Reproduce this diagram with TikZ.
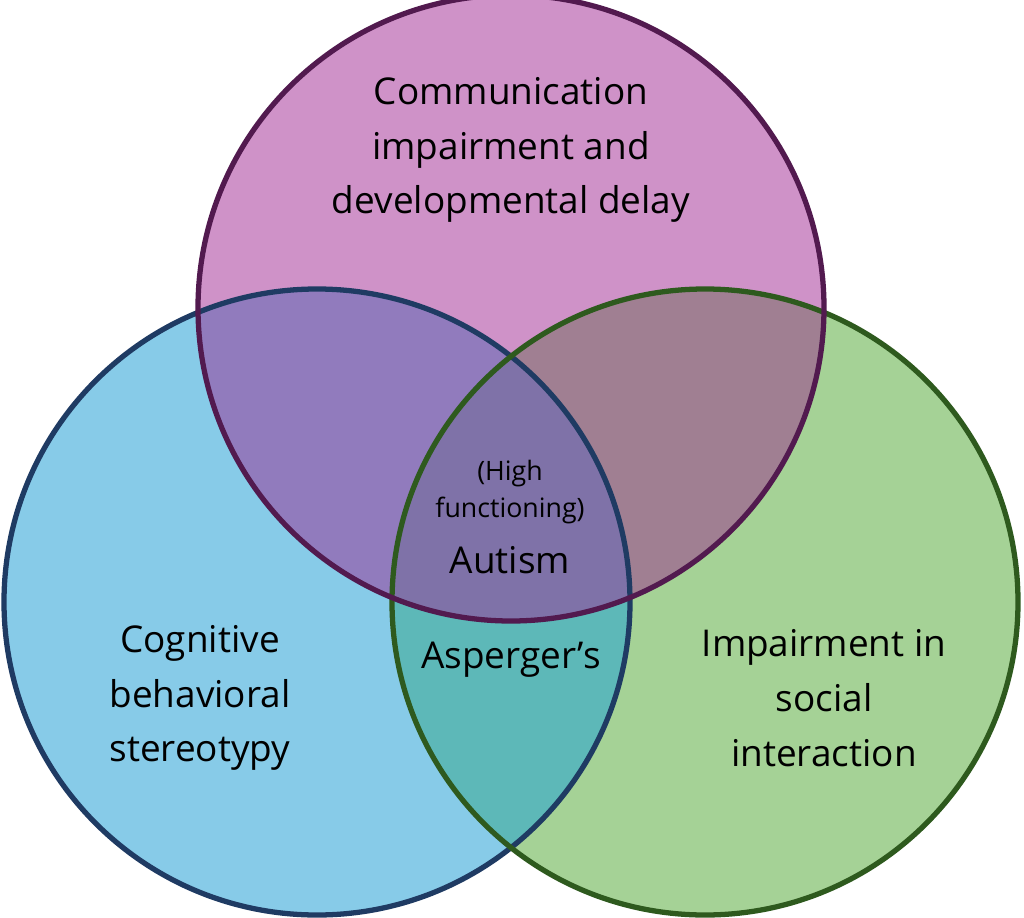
\documentclass[tikz,border=0pt]{standalone}
\usepackage{fontspec}
\setmainfont{Open Sans}
\definecolor{pinkfill}{HTML}{CF92C8}
\definecolor{bluefill}{HTML}{87CBE8}
\definecolor{greenfill}{HTML}{A5D296}
\definecolor{bluepink}{HTML}{917BBD}
\definecolor{greenpink}{HTML}{A07F92}
\definecolor{bluegreen}{HTML}{5DB8B8}
\definecolor{allthree}{HTML}{7F72A8}
\definecolor{pinkline}{HTML}{521A4F}
\definecolor{blueline}{HTML}{1F3B63}
\definecolor{greenline}{HTML}{2E5A1E}
\tikzset{
  ring/.style={line width=1.5pt},
  label/.style={align=center, font=\fontsize{10.5}{15.6}\selectfont},
  small/.style={align=center, font=\fontsize{7.6}{10.5}\selectfont}
}
\begin{document}
\begin{tikzpicture}[x=0.01cm, y=-0.01cm]
			\useasboundingbox (0,0) rectangle (1024,918);
			
			% Centres
			\coordinate (ct) at (511,308);
			\coordinate (cb) at (317,602);
			\coordinate (cg) at (705,602);
			
			% Fills
			\fill[bluefill] (cb) circle (313);
			\fill[greenfill] (cg) circle (313);
			\fill[pinkfill] (ct) circle (313);
			\begin{scope}
				\clip (cb) circle (313);
				\fill[bluegreen] (cg) circle (313);
				\fill[bluepink] (ct) circle (313);
				\clip (cg) circle (313);
				\fill[allthree] (ct) circle (313);
			\end{scope}
			\begin{scope}
				\clip (cg) circle (313);
				\clip (ct) circle (313);
				\fill[greenpink] (ct) circle (313);
				\clip (cb) circle (313);
				\fill[allthree] (ct) circle (313);
			\end{scope}
			
			% Rings
			\draw[ring, blueline] (cb) circle (313);
			\draw[ring, greenline] (cg) circle (313);
			\draw[ring, pinkline] (ct) circle (313);
			
			% Texts
			\node[label] (comm) at (511,150) {Communication\\impairment and\\developmental delay};
			\node[label] (cogn) at (200,698) {Cognitive\\behavioral\\stereotypy};
			\node[label] (soci) at (824,698) {Impairment in\\social\\interaction};
			\node[small] (high) at (510,492) {(High\\functioning)};
			\node[label] (auti) at (510,560) {Autism};
			\node[label] (aspe) at (511,660) {Asperger’s};
			
		\end{tikzpicture}
\end{document}
